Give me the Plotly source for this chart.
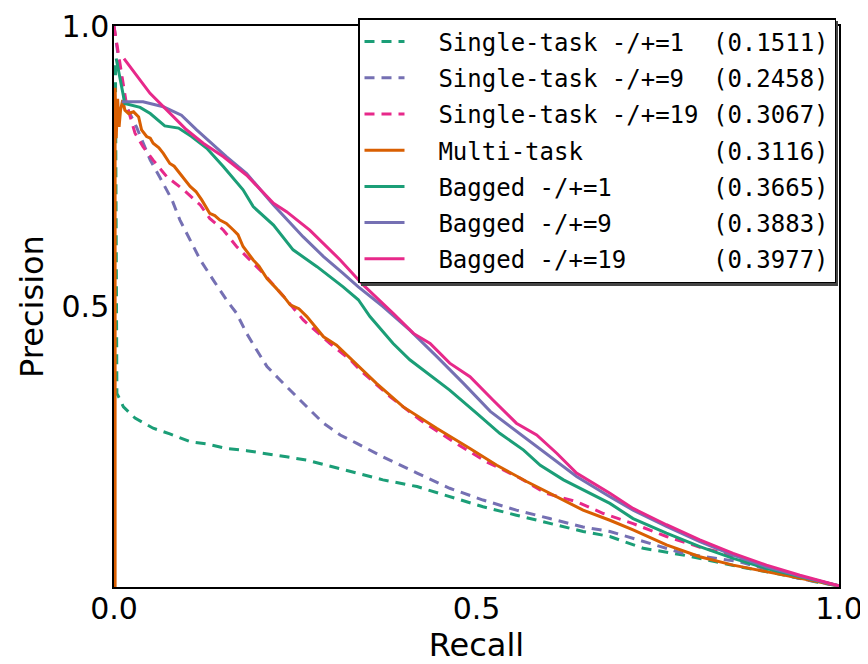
import plotly.graph_objects as go

# ---- data ----
single1_x = [0.002, 0.003, 0.004, 0.008, 0.013, 0.029, 0.054, 0.077, 0.105, 0.128, 0.155, 0.183, 0.211, 0.238,
             0.266, 0.293, 0.321, 0.339, 0.371, 0.418, 0.463, 0.509, 0.555, 0.601, 0.647, 0.684, 0.730, 0.785,
             0.863, 0.914, 0.969, 1.0]
single1_y = [0.93, 0.60, 0.345, 0.335, 0.321, 0.301, 0.283, 0.273, 0.259, 0.255, 0.247, 0.243, 0.238, 0.232,
             0.226, 0.217, 0.209, 0.203, 0.191, 0.179, 0.161, 0.143, 0.128, 0.114, 0.099, 0.090, 0.069, 0.057,
             0.036, 0.024, 0.009, 0.002]

single9_x = [0.0, 0.005, 0.010, 0.015, 0.031, 0.050, 0.063, 0.080, 0.091, 0.105, 0.119, 0.137, 0.155, 0.169,
             0.183, 0.197, 0.211, 0.229, 0.247, 0.270, 0.289, 0.312, 0.335, 0.371, 0.418, 0.463, 0.509, 0.555,
             0.601, 0.647, 0.684, 0.730, 0.785, 0.863, 0.946, 1.0]
single9_y = [1.0, 0.955, 0.905, 0.862, 0.820, 0.761, 0.731, 0.690, 0.654, 0.619, 0.583, 0.547, 0.512, 0.488,
             0.452, 0.422, 0.393, 0.369, 0.345, 0.316, 0.292, 0.271, 0.256, 0.232, 0.203, 0.176, 0.155, 0.137,
             0.122, 0.107, 0.099, 0.081, 0.060, 0.045, 0.015, 0.002]

single19_x = [0.0, 0.006, 0.012, 0.017, 0.029, 0.040, 0.054, 0.073, 0.096, 0.119, 0.132, 0.151, 0.169, 0.188,
              0.206, 0.234, 0.261, 0.298, 0.326, 0.339, 0.381, 0.422, 0.468, 0.514, 0.560, 0.596, 0.638, 0.675,
              0.716, 0.762, 0.813, 0.840, 0.900, 0.950, 1.0]
single19_y = [1.0, 0.95, 0.905, 0.862, 0.809, 0.785, 0.761, 0.731, 0.708, 0.681, 0.657, 0.636, 0.607, 0.583,
              0.559, 0.518, 0.476, 0.434, 0.405, 0.387, 0.339, 0.298, 0.259, 0.223, 0.194, 0.167, 0.152, 0.131,
              0.113, 0.090, 0.069, 0.061, 0.032, 0.016, 0.002]

multi_x = [0.0015, 0.0015, 0.003, 0.005, 0.007, 0.009, 0.012, 0.015, 0.020, 0.027, 0.034, 0.038, 0.045, 0.050,
           0.054, 0.062, 0.068, 0.077, 0.083, 0.091, 0.098, 0.105, 0.113, 0.121, 0.132, 0.139, 0.146, 0.155,
           0.165, 0.171, 0.178, 0.192, 0.200, 0.211, 0.222, 0.234, 0.243, 0.255, 0.266, 0.278, 0.289, 0.307,
           0.326, 0.362, 0.399, 0.445, 0.491, 0.528, 0.569, 0.611, 0.647, 0.684, 0.716, 0.762, 0.808, 0.854,
           0.900, 0.946, 1.0]
multi_y = [0.0, 0.89, 0.80, 0.87, 0.82, 0.85, 0.868, 0.850, 0.844, 0.847, 0.838, 0.815, 0.803, 0.800,
           0.791, 0.783, 0.773, 0.755, 0.750, 0.737, 0.727, 0.714, 0.705, 0.690, 0.666, 0.662, 0.654, 0.648,
           0.636, 0.628, 0.607, 0.583, 0.572, 0.550, 0.535, 0.518, 0.503, 0.496, 0.482, 0.463, 0.446, 0.431,
           0.408, 0.363, 0.321, 0.283, 0.247, 0.217, 0.188, 0.161, 0.137, 0.119, 0.102, 0.075, 0.054, 0.039,
           0.027, 0.015, 0.002]

bagged1_x = [0.003, 0.015, 0.036, 0.050, 0.070, 0.089, 0.107, 0.128, 0.151, 0.178, 0.192, 0.220, 0.247, 0.280,
             0.316, 0.337, 0.353, 0.385, 0.408, 0.445, 0.463, 0.500, 0.532, 0.565, 0.588, 0.620, 0.657, 0.684,
             0.716, 0.762, 0.808, 0.854, 0.900, 0.950, 1.0]
bagged1_y = [0.942, 0.862, 0.855, 0.844, 0.822, 0.818, 0.803, 0.782, 0.749, 0.708, 0.678, 0.645, 0.601, 0.571,
             0.535, 0.512, 0.482, 0.434, 0.405, 0.369, 0.351, 0.310, 0.274, 0.244, 0.217, 0.191, 0.167, 0.149,
             0.122, 0.096, 0.072, 0.051, 0.033, 0.017, 0.002]

bagged9_x = [0.0106, 0.040, 0.068, 0.093, 0.114, 0.132, 0.155, 0.183, 0.220, 0.261, 0.289, 0.316, 0.337, 0.371,
             0.408, 0.445, 0.482, 0.519, 0.565, 0.601, 0.638, 0.684, 0.716, 0.762, 0.808, 0.854, 0.900, 0.950, 1.0]
bagged9_y = [0.865, 0.865, 0.856, 0.841, 0.815, 0.794, 0.767, 0.737, 0.681, 0.624, 0.589, 0.559, 0.535, 0.500,
             0.458, 0.411, 0.363, 0.313, 0.268, 0.232, 0.197, 0.161, 0.137, 0.108, 0.081, 0.057, 0.036, 0.018, 0.002]

bagged19_x = [0.0138, 0.0497, 0.100, 0.123, 0.151, 0.183, 0.220, 0.238, 0.270, 0.312, 0.344, 0.385, 0.413, 0.436,
              0.463, 0.491, 0.523, 0.555, 0.583, 0.611, 0.638, 0.666, 0.684, 0.716, 0.762, 0.808, 0.854, 0.900,
              0.946, 1.0]
bagged19_y = [0.942, 0.880, 0.815, 0.791, 0.767, 0.734, 0.684, 0.669, 0.636, 0.583, 0.538, 0.488, 0.452, 0.434,
              0.399, 0.375, 0.333, 0.292, 0.271, 0.238, 0.203, 0.182, 0.167, 0.140, 0.111, 0.084, 0.060, 0.039,
              0.021, 0.002]

names = ["Single-task -/+=1", "Single-task -/+=9", "Single-task -/+=19", "Multi-task",
         "Bagged -/+=1", "Bagged -/+=9", "Bagged -/+=19"]
scores = ["(0.1511)", "(0.2458)", "(0.3067)", "(0.3116)", "(0.3665)", "(0.3883)", "(0.3977)"]

x_ticks = [0.0, 0.5, 1.0]
y_ticks = [0.5, 1.0]

# ---- styling ----
GREEN, ORANGE, PURPLE, PINK = "#1b9e77", "#d95f02", "#7570b3", "#e7298a"
series = [
    (single1_x, single1_y, GREEN, "10px,7px"),
    (single9_x, single9_y, PURPLE, "10px,7px"),
    (single19_x, single19_y, PINK, "10px,7px"),
    (multi_x, multi_y, ORANGE, "solid"),
    (bagged1_x, bagged1_y, GREEN, "solid"),
    (bagged9_x, bagged9_y, PURPLE, "solid"),
    (bagged19_x, bagged19_y, PINK, "solid"),
]

fig = go.Figure()
for i, ((xs, ys, col, dash), nm, sc) in enumerate(zip(series, names, scores)):
    label = ("  " + nm.ljust(19) + sc).replace(" ", "\u00a0")
    fig.add_trace(go.Scatter(x=xs, y=ys, mode="lines", name=label,
                             legendgroup=f"g{i}",
                             line=dict(color=col, width=3, dash=dash)))

# page body has an 8px margin: figure origin sits at (8, 8) on screen
OFF = 8
W, H = 860, 656
L, T = 106, 18
pw, ph = 725, 561
R, B = W - L - pw, H - T - ph

def sx2paper(sx):
    return (sx - OFF - L) / pw

def sy2paper(sy):
    return (T + ph - (sy - OFF)) / ph

# legend shadow
fig.add_shape(type="rect", xref="paper", yref="paper",
              x0=sx2paper(361), x1=sx2paper(838), y0=sy2paper(286), y1=sy2paper(21),
              fillcolor="#444444", line=dict(width=0), layer="above")

fig.update_layout(
    width=W, height=H,
    margin=dict(l=L, r=R, t=T, b=B, autoexpand=False),
    paper_bgcolor="white", plot_bgcolor="white",
    font=dict(family="DejaVu Sans", color="black"),
    showlegend=True,
    legend=dict(x=sx2paper(358), y=sy2paper(18), xanchor="left", yanchor="top",
                bgcolor="white", bordercolor="black", borderwidth=1.5,
                font=dict(family="DejaVu Sans Mono", size=24, color="black"),
                traceorder="grouped", tracegroupgap=2, itemwidth=40),
    xaxis=dict(range=[0, 1], tickvals=x_ticks, ticktext=[f"{v:.1f}" for v in x_ticks],
               showgrid=False, zeroline=False, showline=True, linecolor="black", linewidth=1.5,
               mirror=True, ticks="", tickfont=dict(size=30), automargin=False,
               ticklabelstandoff=-6,
               title=dict(text="Recall", font=dict(size=32), standoff=8)),
    yaxis=dict(range=[0, 1], tickvals=y_ticks, ticktext=[f"{v:.1f}" for v in y_ticks],
               showgrid=False, zeroline=False, showline=True, linecolor="black", linewidth=1.5,
               mirror=True, ticks="", tickfont=dict(size=30), automargin=False,
               ticklabelstandoff=-3,
               title=dict(text="Precision", font=dict(size=32), standoff=8)),
)

fig.write_html("out.html")
